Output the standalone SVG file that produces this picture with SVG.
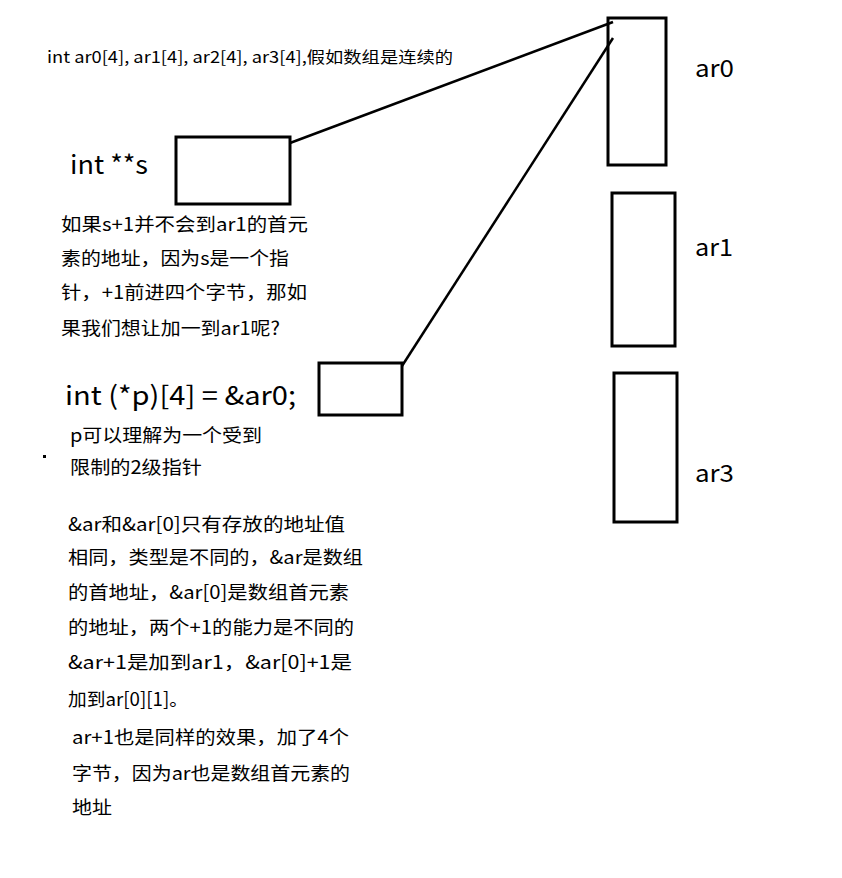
<svg xmlns="http://www.w3.org/2000/svg" width="842" height="878" viewBox="0 0 842 878">
<style>
text{font-family:"Noto Sans CJK SC","Noto Sans",sans-serif;fill:#000}
.box{fill:none;stroke:#000;stroke-width:3}
.t16{font-size:16px}
.t18{font-size:18.5px}
.big{font-size:26px}
.lbl{font-size:24px}
.conn{stroke:#000;stroke-width:2.5;fill:none}
</style>
<rect width="842" height="878" fill="#fff"/>
<text class="t16" x="47" y="63" textLength="406" lengthAdjust="spacingAndGlyphs">int ar0[4], ar1[4], ar2[4], ar3[4],假如数组是连续的</text>
<g id="ar0"><rect class="box" x="608" y="18" width="58" height="147"/><text class="lbl" x="695" y="77" textLength="39" lengthAdjust="spacingAndGlyphs">ar0</text></g>
<g id="ar1"><rect class="box" x="612" y="193" width="63" height="153"/><text class="lbl" x="695" y="256" textLength="38" lengthAdjust="spacingAndGlyphs">ar1</text></g>
<g id="ar3"><rect class="box" x="614" y="373" width="63" height="149"/><text class="lbl" x="695" y="482" textLength="39" lengthAdjust="spacingAndGlyphs">ar3</text></g>
<g id="s"><text class="big" x="70" y="174" textLength="78" lengthAdjust="spacingAndGlyphs">int **s</text><rect class="box" x="176" y="137" width="114" height="67"/></g>
<g id="p"><text class="big" x="65" y="405" textLength="231" lengthAdjust="spacingAndGlyphs">int (*p)[4] = &amp;ar0;</text><rect class="box" x="319" y="363" width="83" height="52"/></g>
<g id="connectors">
<line class="conn" x1="290" y1="143" x2="613" y2="22"/>
<line class="conn" x1="402" y1="366" x2="613" y2="38"/>
</g>
<g id="note1" class="t18">
<text x="61" y="231" textLength="247" lengthAdjust="spacingAndGlyphs">如果s+1并不会到ar1的首元</text>
<text x="61" y="265" textLength="228" lengthAdjust="spacingAndGlyphs">素的地址，因为s是一个指</text>
<text x="61" y="299" textLength="246" lengthAdjust="spacingAndGlyphs">针，+1前进四个字节，那如</text>
<text x="61" y="335" textLength="219" lengthAdjust="spacingAndGlyphs">果我们想让加一到ar1呢?</text>
</g>
<g id="note2" class="t18">
<text x="70" y="442" textLength="192" lengthAdjust="spacingAndGlyphs">p可以理解为一个受到</text>
<text x="70" y="474" textLength="132" lengthAdjust="spacingAndGlyphs">限制的2级指针</text>
</g>
<rect x="43" y="455" width="3" height="3" fill="#000"/>
<g id="note3" class="t18">
<text x="68" y="531" textLength="277" lengthAdjust="spacingAndGlyphs">&amp;ar和&amp;ar[0]只有存放的地址值</text>
<text x="68" y="564" textLength="295" lengthAdjust="spacingAndGlyphs">相同，类型是不同的，&amp;ar是数组</text>
<text x="68" y="599" textLength="281" lengthAdjust="spacingAndGlyphs">的首地址，&amp;ar[0]是数组首元素</text>
<text x="68" y="634" textLength="286" lengthAdjust="spacingAndGlyphs">的地址，两个+1的能力是不同的</text>
<text x="68" y="669" textLength="284" lengthAdjust="spacingAndGlyphs">&amp;ar+1是加到ar1，&amp;ar[0]+1是</text>
<text x="68" y="706" textLength="120" lengthAdjust="spacingAndGlyphs">加到ar[0][1]。</text>
</g>
<g id="note4" class="t18">
<text x="72" y="744" textLength="277" lengthAdjust="spacingAndGlyphs">ar+1也是同样的效果，加了4个</text>
<text x="72" y="780" textLength="278" lengthAdjust="spacingAndGlyphs">字节，因为ar也是数组首元素的</text>
<text x="72" y="814" textLength="40" lengthAdjust="spacingAndGlyphs">地址</text>
</g>
</svg>
